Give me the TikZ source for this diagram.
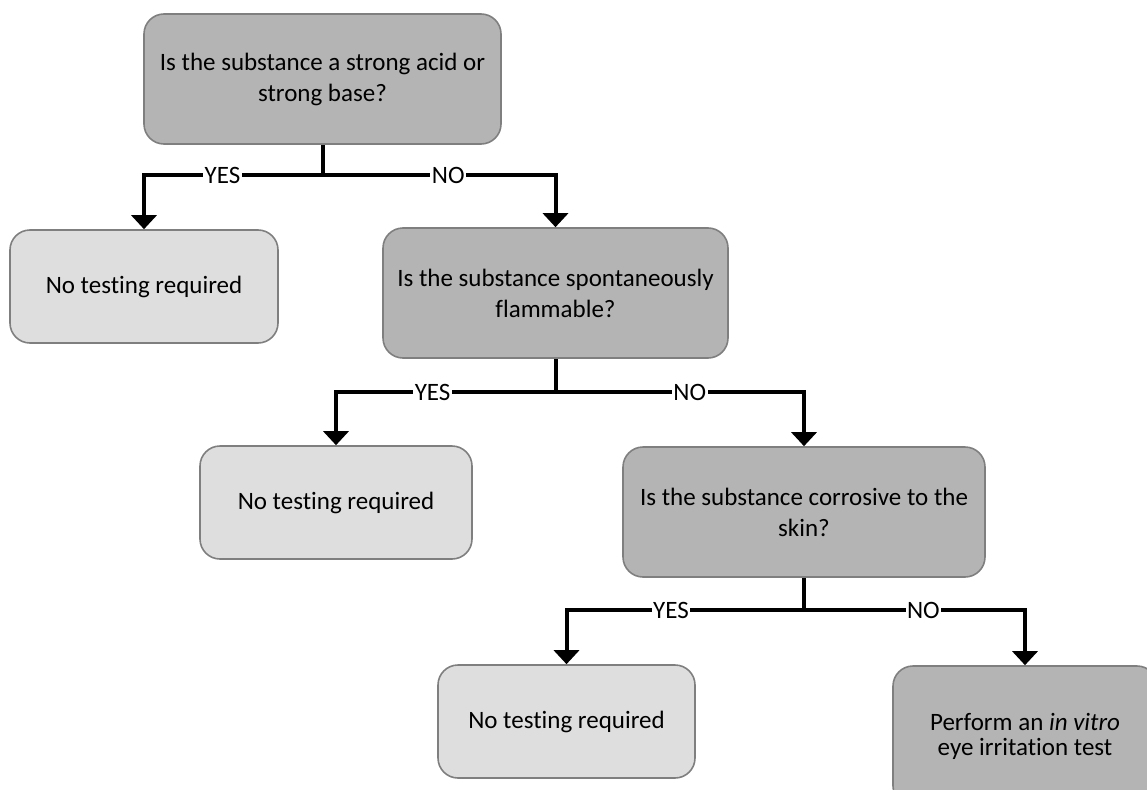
\documentclass[tikz,border=0pt]{standalone}
\definecolor{QGray}{HTML}{B4B4B4}
\definecolor{AGray}{HTML}{DEDEDE}
\definecolor{BoxEdge}{HTML}{7F7F7F}
\usepackage{fontspec}
\setmainfont{Carlito}[Ligatures=CommonOff]
\usepackage{tikz}
\usetikzlibrary{arrows.meta}

\begin{document}
\begin{tikzpicture}[x=1pt,y=-1pt,
    qbox/.style={rectangle,rounded corners=20pt,fill=QGray,draw=BoxEdge,
                 line width=1.6pt,align=center,inner sep=4pt,
                 font=\fontsize{25}{31}\selectfont},
    abox/.style={qbox,fill=AGray},
    stem/.style={line width=4pt},
    flow/.style={line width=4pt,-{Triangle[width=25pt,length=14pt]}},
    lbl/.style={fill=white,inner sep=1.5pt,font=\fontsize{25}{25}\selectfont}]
    \useasboundingbox (0,0) rectangle (1147,789);
    \clip (0,0) rectangle (1147,789);
    % questions
    \node[qbox,minimum width=357pt,minimum height=130pt] (acid) at (322.5,79)
      {Is the substance a strong acid or\\strong base?};
    \node[qbox,minimum width=345pt,minimum height=130pt] (flam) at (555.5,293)
      {Is the substance spontaneously\\flammable?};
    \node[qbox,minimum width=362pt,minimum height=130pt] (corr) at (804,512)
      {Is the substance corrosive to the\\skin?};
    % outcomes
    \node[abox,minimum width=268pt,minimum height=113pt] (none1) at (144,286.5)
      {No testing required};
    \node[abox,minimum width=272pt,minimum height=113pt] (none2) at (336,502.5)
      {No testing required};
    \node[abox,minimum width=257pt,minimum height=113pt] (none3) at (566.5,721.5)
      {No testing required};
    \node[qbox,minimum width=264pt,minimum height=140pt,
          font=\fontsize{25}{25}\selectfont] (invitro) at (1025,736)
      {Perform an \textit{in vitro}\\eye irritation test};
    % branches
    \coordinate (j1) at (acid.south |- 0,175);
    \coordinate (j2) at (flam.south |- 0,392);
    \coordinate (j3) at (corr.south |- 0,610);
    \draw[stem] (acid.south) -- (j1);
    \draw[flow] (j1) -| node[lbl,pos=0.28] {YES} (none1.north);
    \draw[flow] (j1) -| node[lbl,pos=0.27] {NO} (flam.north);
    \draw[stem] (flam.south) -- (j2);
    \draw[flow] (j2) -| node[lbl,pos=0.28] {YES} (none2.north);
    \draw[flow] (j2) -| node[lbl,pos=0.27] {NO} (corr.north);
    \draw[stem] (corr.south) -- (j3);
    \draw[flow] (j3) -| node[lbl,pos=0.28] {YES} (none3.north);
    \draw[flow] (j3) -| node[lbl,pos=0.27] {NO} (invitro.north);
\end{tikzpicture}
\end{document}
